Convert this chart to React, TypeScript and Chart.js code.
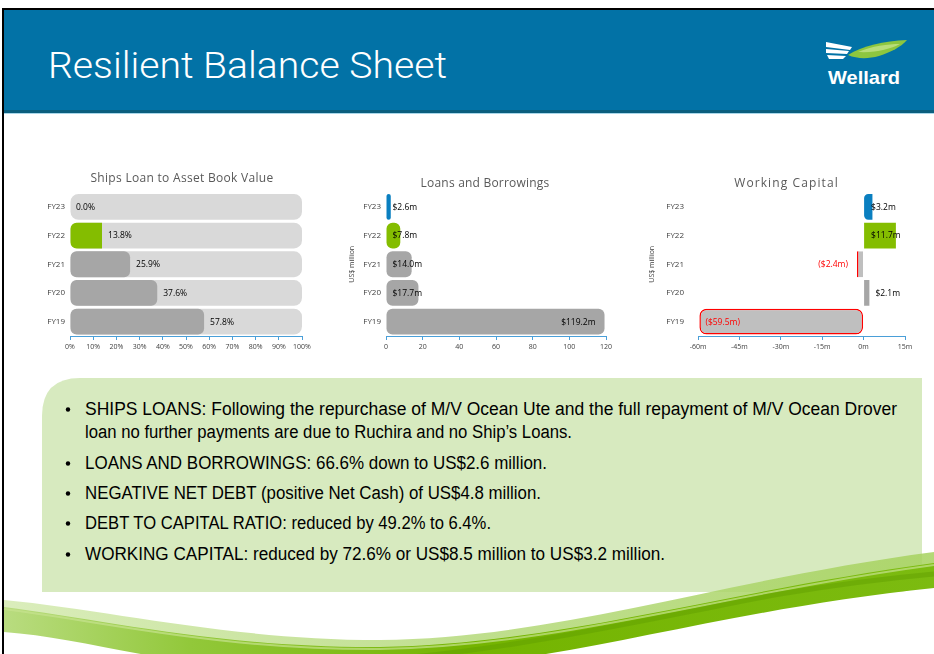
import React, { useEffect, useRef } from "react";
import { Chart, registerables } from "chart.js";
Chart.register(...registerables);

// ---------- data ----------
const fiscalYears = ["FY23", "FY22", "FY21", "FY20", "FY19"];
const shipLoanToBookPct = [0.0, 13.8, 25.9, 37.6, 57.8];
const shipLoanTrackPct = [100, 100, 100, 100, 100];
const loansBorrowingsUSDm = [2.6, 7.8, 14.0, 17.7, 119.2];
const workingCapitalUSDm = [3.2, 11.7, -2.4, 2.1, -59.5];

const pctAxisMax = 100;
const pctAxisStep = 10;
const loansAxisMax = 120;
const loansAxisStep = 20;
const wcAxisMin = -60;
const wcAxisMax = 15;
const wcAxisStep = 15;

const chartTitles = ["Ships Loan to Asset Book Value", "Loans and Borrowings", "Working Capital"];
const yAxisTitle = "US$ million";
const slideTitle = "Resilient Balance Sheet";

const bulletLines = [
  ["SHIPS LOANS: Following the repurchase of M/V Ocean Ute and the full repayment of M/V Ocean Drover",
   "loan no further payments are due to Ruchira and no Ship\u2019s Loans."],
  ["LOANS AND BORROWINGS: 66.6% down to US$2.6 million."],
  ["NEGATIVE NET DEBT (positive Net Cash) of US$4.8 million."],
  ["DEBT TO CAPITAL RATIO: reduced by 49.2% to 6.4%."],
  ["WORKING CAPITAL: reduced by 72.6% or US$8.5 million to US$3.2 million."],
];

// ---------- styles ----------
const GREEN = "#84bd00";
const BLUE = "#0a7fc0";
const GRAY = "#a6a6a6";
const LIGHTGRAY = "#bfbfbf";
const TRACK = "#d9d9d9";
const RED = "#ff0000";
const AXIS = "#4a9fd8";
const FONT = '"Open Sans", "DejaVu Sans", sans-serif';

type LabelSpec = { text: string; color: string; x: number; align: CanvasTextAlign };

function labelPlugin(spec: (el: any, v: number, i: number) => LabelSpec | null) {
  return {
    id: "valueLabels",
    afterDatasetsDraw(chart: any) {
      const meta = chart.getDatasetMeta(0);
      const data = chart.data.datasets[0].data as number[];
      const ctx = chart.ctx as CanvasRenderingContext2D;
      ctx.save();
      ctx.font = `8.5px ${FONT}`;
      ctx.textBaseline = "middle";
      meta.data.forEach((el: any, i: number) => {
        const s = spec(el, data[i], i);
        if (!s) return;
        ctx.fillStyle = s.color;
        ctx.textAlign = s.align;
        ctx.fillText(s.text, s.x, el.y + 0.5);
      });
      ctx.restore();
    },
  };
}

function titlePlugin(text: string, dx: number, dy: number, spacing: number) {
  return {
    id: "chartHeading",
    afterDraw(chart: any) {
      const ca = chart.chartArea;
      const ctx = chart.ctx as any;
      ctx.save();
      ctx.font = `12px ${FONT}`;
      ctx.letterSpacing = `${spacing}px`;
      ctx.fillStyle = "#595959";
      ctx.textAlign = "center";
      ctx.textBaseline = "middle";
      ctx.fillText(text, (ca.left + ca.right) / 2 + dx, ca.top + dy);
      ctx.restore();
    },
  };
}

function baseOptions(p: {
  padding: any;
  yWidth: number;
  yTickPad: number;
  yTitle?: boolean;
  x: any;
}) {
  return {
    indexAxis: "y" as const,
    responsive: false,
    animation: false as const,
    layout: { padding: p.padding },
    plugins: {
      legend: { display: false },
      tooltip: { enabled: false },
      title: { display: false },
    },
    scales: {
      x: {
        ...p.x,
        afterFit: (s: any) => { s.height = 22; },
        border: { display: true, color: AXIS, width: 1 },
        grid: { drawOnChartArea: false, drawTicks: true, tickLength: 4, color: AXIS },
        ticks: { ...(p.x.ticks || {}), color: "#404040", font: { family: FONT, size: 7 }, padding: 3, maxRotation: 0, autoSkip: false },
      },
      y: {
        afterFit: (s: any) => { s.width = p.yWidth; },
        border: { display: false },
        grid: { display: false, drawTicks: false },
        ticks: { color: "#404040", font: { family: FONT, size: 8 }, padding: p.yTickPad },
        title: {
          display: !!p.yTitle,
          text: yAxisTitle,
          color: "#404040",
          font: { family: FONT, size: 7 },
          padding: { top: 4, bottom: 0 },
        },
      },
    },
  };
}

function shipsConfig(): any {
  return {
    type: "bar",
    data: {
      labels: fiscalYears,
      datasets: [
        {
          data: shipLoanToBookPct,
          backgroundColor: fiscalYears.map((_, i) => (i === 1 ? GREEN : GRAY)),
          borderRadius: fiscalYears.map((_, i) => (i === 1 ? { topLeft: 6, bottomLeft: 6, topRight: 0, bottomRight: 0 } : 6)),
          borderSkipped: false,
          barPercentage: 0.9,
          categoryPercentage: 1,
          grouped: false,
          order: 0,
        },
        {
          data: shipLoanTrackPct,
          backgroundColor: TRACK,
          borderRadius: 8,
          borderSkipped: false,
          barPercentage: 0.9,
          categoryPercentage: 1,
          grouped: false,
          order: 1,
        },
      ],
    },
    options: baseOptions({
      padding: { left: 0, right: 13, top: 29.5, bottom: 2 },
      yWidth: 40,
      yTickPad: 5,
      x: {
        min: 0,
        max: pctAxisMax,
        ticks: { stepSize: pctAxisStep, callback: (v: any) => `${v}%` },
      },
    }),
    plugins: [
      titlePlugin(chartTitles[0], -4, -14, 0.3),
      labelPlugin((el, v) => ({ text: `${v.toFixed(1)}%`, color: "#000", x: el.x + 6, align: "left" })),
    ],
  };
}

function loansConfig(): any {
  const colors = fiscalYears.map((_, i) => (i === 0 ? BLUE : i === 1 ? GREEN : GRAY));
  return {
    type: "bar",
    data: {
      labels: fiscalYears,
      datasets: [
        {
          data: loansBorrowingsUSDm,
          backgroundColor: colors,
          borderRadius: 6,
          borderSkipped: false,
          barPercentage: 0.9,
          categoryPercentage: 1,
        },
      ],
    },
    options: baseOptions({
      padding: { left: 4, right: 14, top: 24.5, bottom: 2 },
      yWidth: 42,
      yTickPad: 5,
      yTitle: true,
      x: {
        min: 0,
        max: loansAxisMax,
        ticks: { stepSize: loansAxisStep },
      },
    }),
    plugins: [
      titlePlugin(chartTitles[1], -11, -9, 0.2),
      labelPlugin((el, v) => {
        const big = v > loansAxisMax / 2;
        return {
          text: `$${v.toFixed(1)}m`,
          color: "#000",
          x: big ? el.x - 9 : el.base + 6,
          align: big ? "right" : "left",
        };
      }),
    ],
  };
}

function wcConfig(): any {
  const colors = [BLUE, GREEN, LIGHTGRAY, GRAY, LIGHTGRAY];
  return {
    type: "bar",
    data: {
      labels: fiscalYears,
      datasets: [
        {
          data: workingCapitalUSDm,
          backgroundColor: colors,
          borderColor: workingCapitalUSDm.map((v) => (v < 0 ? RED : "rgba(0,0,0,0)")),
          borderWidth: workingCapitalUSDm.map((v) =>
            v < -10 ? 1.5 : v < 0 ? { left: 1.5, right: 0, top: 0, bottom: 0 } : 0
          ),
          borderRadius: workingCapitalUSDm.map((v) => (v < -10 ? 7 : v > 3 && v < 5 ? { topLeft: 5, bottomLeft: 5, topRight: 0, bottomRight: 0 } : 0)),
          borderSkipped: false,
          barPercentage: 0.9,
          categoryPercentage: 1,
        },
      ],
    },
    options: baseOptions({
      padding: { left: 4, right: 20, top: 24.5, bottom: 2 },
      yWidth: 54,
      yTickPad: 14,
      yTitle: true,
      x: {
        min: wcAxisMin,
        max: wcAxisMax,
        ticks: { stepSize: wcAxisStep, callback: (v: any) => `${v}m` },
      },
    }),
    plugins: [
      titlePlugin(chartTitles[2], -15, -9, 1.1),
      labelPlugin((el, v) => {
        if (v < 0) {
          const inside = v < -10;
          return {
            text: `($${Math.abs(v).toFixed(1)}m)`,
            color: RED,
            x: inside ? el.x + 6 : el.x - 9,
            align: inside ? "left" : "right",
          };
        }
        const inside = v >= 3;
        return {
          text: `$${v.toFixed(1)}m`,
          color: "#000",
          x: inside ? el.base + 7 : el.x + 6,
          align: "left",
        };
      }),
    ],
  };
}

function BarCanvas(props: { left: number; top: number; width: number; height: number; make: () => any }) {
  const ref = useRef<HTMLCanvasElement>(null);
  useEffect(() => {
    const chart = new Chart(ref.current as HTMLCanvasElement, props.make());
    return () => chart.destroy();
  }, []);
  return (
    <canvas
      ref={ref}
      width={props.width}
      height={props.height}
      style={{ position: "absolute", left: props.left, top: props.top, width: props.width, height: props.height }}
    />
  );
}

const lineY = [415, 438, 469, 499, 529, 560];
const lineW = [812, 487, 462, 456, 406, 580];

export default function App() {
  useEffect(() => {
    document.body.style.margin = "0";
  }, []);
  let li = 0;
  const textNodes: any[] = [];
  bulletLines.forEach((lines, bi) => {
    lines.forEach((ln, k) => {
      const y = lineY[li];
      if (k === 0) {
        textNodes.push(<circle key={`b${bi}`} cx={68} cy={y - 5.5} r={2.2} fill="#000" />);
      }
      textNodes.push(
        <text
          key={`t${li}`}
          x={85}
          y={y}
          fontSize={18}
          fontFamily='"Liberation Sans Narrow", "Liberation Sans", Arial, sans-serif'
          fill="#000"
          textLength={lineW[li]}
          lengthAdjust="spacingAndGlyphs"
        >
          {ln}
        </text>
      );
      li++;
    });
  });

  return (
    <div style={{ position: "relative", width: 934, height: 654, overflow: "hidden", background: "#fff" }}>
      <svg width={934} height={654} style={{ position: "absolute", left: 0, top: 0 }}>
        <defs>
          <linearGradient id="sw" x1="0" y1="0" x2="1" y2="0">
            <stop offset="0" stopColor="#b9dc80" />
            <stop offset="0.2" stopColor="#92c83a" />
            <stop offset="0.5" stopColor="#74b400" />
            <stop offset="1" stopColor="#7cbb10" />
          </linearGradient>
          <linearGradient id="sw2" x1="0" y1="0" x2="1" y2="0">
            <stop offset="0" stopColor="#d4eab0" />
            <stop offset="0.5" stopColor="#b4d97a" />
            <stop offset="1" stopColor="#a6d25e" />
          </linearGradient>
        </defs>
        {/* frame */}
        <rect x={0} y={0} width={934} height={654} fill="#fff" />
        <rect x={2} y={8} width={932} height={2} fill="#000" />
        <rect x={2} y={8} width={2} height={646} fill="#000" />
        {/* header */}
        <rect x={4} y={10} width={930} height={100} fill="#0272a6" />
        <rect x={4} y={110} width={930} height={3} fill="#0b5e7e" />
        <rect x={4} y={113} width={930} height={1} fill="#a9d7ea" />
        <text
          x={48}
          y={78}
          fontSize={37}
          fontFamily='Roboto, "Open Sans", sans-serif'
          fontWeight={300}
          fill="#fff"
          textLength={399}
          lengthAdjust="spacingAndGlyphs"
        >
          {slideTitle}
        </text>
        {/* logo */}
        <path d="M848,55 C862,46 884,41 907,40 C901,47 891,52 879,56 C868,59 857,59 848,55 Z" fill="#8dc63f" />
        <path d="M858,52 C872,46 888,44 900,44 C890,49 876,53 858,52 Z" fill="#b8dd7a" />
        <path d="M826,42 L852,47 L850,50 L826,47 Z" fill="#fff" />
        <path d="M826,49 L849,51 L847,54 L826,53 Z" fill="#fff" />
        <path d="M827,55 L846,56 L843,59 L829,59 Z" fill="#fff" />
        <text x={828} y={84} fontSize={19} fontWeight="bold" fontFamily='"Liberation Sans", Arial, sans-serif' fill="#fff" textLength={72} lengthAdjust="spacingAndGlyphs">
          Wellard
        </text>
        {/* text box */}
        <path d="M42,416 Q42,378 80,378 L922,378 L922,567 Q922,592 897,592 L42,592 Z" fill="#d7eabf" />
        {textNodes}
        {/* swoosh: light halo */}
        <path d="M4,600 C110,610 230,640 380,640 C560,638 720,580 934,552 L934,566 C720,592 560,646 380,650 C230,652 110,628 4,618 Z" fill="url(#sw2)" opacity={0.85} />
        {/* swoosh: main band */}
        <path d="M4,607 C100,619 220,648 380,647 C560,644 720,592 934,563 L934,588 C740,608 600,652 470,664 L200,664 C120,652 60,636 4,632 Z" fill="url(#sw)" />
        <path d="M4,609 C100,621 220,650 380,649 C560,646 720,594 934,565" fill="none" stroke="#c6e38e" strokeWidth={2} opacity={0.7} />
        <path d="M300,664 C480,660 640,620 780,594 C840,584 890,578 934,574" fill="none" stroke="#5f9e00" strokeWidth={5} opacity={0.45} />
      </svg>
      <BarCanvas left={30} top={163} width={285} height={197} make={shipsConfig} />
      <BarCanvas left={340} top={168} width={280} height={192} make={loansConfig} />
      <BarCanvas left={640} top={168} width={285} height={192} make={wcConfig} />
    </div>
  );
}
